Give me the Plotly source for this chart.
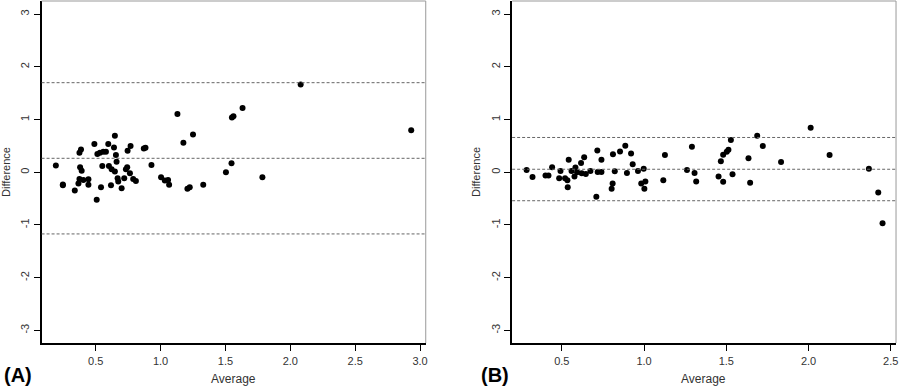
import plotly.graph_objects as go

# ---- Panel A data (Average, Difference) ----
avg_a = [0.193, 0.247, 0.247, 0.339, 0.367, 0.375, 0.387, 0.380, 0.392, 0.375, 0.405,
         0.444, 0.444, 0.490, 0.513, 0.533, 0.559, 0.579, 0.508, 0.541, 0.551, 0.597,
         0.602, 0.623, 0.618, 0.641, 0.648, 0.656, 0.661, 0.648, 0.669, 0.674, 0.700,
         0.720, 0.733, 0.743, 0.746, 0.769, 0.764, 0.789, 0.810, 0.871, 0.884, 0.930,
         1.004, 1.033, 1.058, 1.066, 1.130, 1.176, 1.207, 1.225, 1.250, 1.329, 1.504,
         1.547, 1.550, 1.562, 1.632, 1.785, 2.080, 2.932]
diff_a = [0.126, -0.245, -0.230, -0.346, -0.214, 0.371, 0.434, 0.094, 0.031, -0.126, -0.145,
          -0.132, -0.239, 0.535, 0.346, 0.371, 0.390, 0.390, -0.522, -0.283, 0.119, 0.535,
          0.119, 0.057, -0.245, 0.472, 0.692, 0.327, 0.201, 0.013, -0.113, -0.176, -0.302,
          -0.113, 0.057, 0.094, 0.409, 0.497, -0.019, -0.126, -0.164, 0.453, 0.465, 0.138,
          -0.094, -0.157, -0.145, -0.239, 1.107, 0.560, -0.314, -0.283, 0.717, -0.239, 0.0,
          0.170, 1.038, 1.063, 1.220, -0.094, 1.667, 0.799]
limits_a = [1.70, 0.265, -1.17]

# ---- Panel B data (Average, Difference) ----
avg_b = [0.286, 0.322, 0.401, 0.419, 0.441, 0.484, 0.492, 0.520, 0.534, 0.536, 0.542,
         0.559, 0.577, 0.583, 0.593, 0.617, 0.621, 0.636, 0.646, 0.674, 0.710, 0.716,
         0.718, 0.741, 0.741, 0.803, 0.809, 0.811, 0.822, 0.854, 0.886, 0.896, 0.921,
         0.931, 0.963, 0.983, 0.998, 1.002, 1.008, 1.117, 1.127, 1.261, 1.291, 1.307,
         1.317, 1.453, 1.467, 1.481, 1.481, 1.503, 1.513, 1.528, 1.538, 1.635, 1.645,
         1.688, 1.722, 1.833, 2.013, 2.128, 2.367, 2.424, 2.450]
diff_b = [0.044, -0.088, -0.063, -0.063, 0.094, -0.113, 0.025, -0.113, -0.151, -0.283, 0.239,
          0.025, -0.082, 0.088, 0.0, 0.176, -0.019, 0.283, -0.031, 0.025, -0.465, 0.415,
          0.006, 0.006, 0.239, -0.314, -0.214, 0.340, 0.019, 0.396, 0.503, -0.013, 0.358,
          0.151, 0.025, -0.214, 0.069, -0.314, -0.176, -0.151, 0.327, 0.044, 0.484, -0.013,
          -0.176, -0.082, 0.208, -0.182, 0.333, 0.390, 0.428, 0.610, -0.038, 0.264, -0.201,
          0.692, 0.497, 0.195, 0.843, 0.327, 0.069, -0.384, -0.969]
limits_b = [0.66, 0.057, -0.54]

x_ticks_a = [0.5, 1.0, 1.5, 2.0, 2.5, 3.0]
x_ticks_b = [0.5, 1.0, 1.5, 2.0, 2.5]
y_ticks = [-3, -2, -1, 0, 1, 2, 3]
y_tick_text = ["-3", "-2", "-1", "0", "1", "2", "3"]

FONT = "Liberation Sans, Arial, Helvetica, sans-serif"
TICKFONT = dict(family=FONT, size=11, color="#333333")

fig = go.Figure()
fig.add_trace(go.Scatter(x=avg_a, y=diff_a, mode="markers", xaxis="x", yaxis="y",
                         marker=dict(color="black", size=6), showlegend=False))
fig.add_trace(go.Scatter(x=avg_b, y=diff_b, mode="markers", xaxis="x2", yaxis="y2",
                         marker=dict(color="black", size=6), showlegend=False))


def xax(domain, rng, ticks):
    return dict(domain=domain, range=rng, tickvals=ticks,
                ticktext=[f"{t:.1f}" for t in ticks],
                showgrid=False, zeroline=False, showline=True, linecolor="black",
                linewidth=1.5, ticks="outside", ticklen=6, tickwidth=1.2,
                tickcolor="black", tickfont=TICKFONT, ticklabelstandoff=1)


def yax(domain, anchor):
    return dict(domain=domain, range=[-3.24, 3.25], tickvals=y_ticks, ticktext=y_tick_text,
                anchor=anchor, tickangle=-90,
                showgrid=False, zeroline=False, showline=True, linecolor="black",
                linewidth=2, ticks="outside", ticklen=6, tickwidth=1.2,
                tickcolor="black", tickfont=TICKFONT)


ydom = [0.1114, 0.9974]
fig.update_layout(
    width=900, height=386,
    margin=dict(l=0, r=0, t=0, b=0),
    paper_bgcolor="white", plot_bgcolor="white",
    xaxis=dict(xax([0.0463, 0.4741], [0.083, 3.044], x_ticks_a), anchor="y"),
    yaxis=yax(ydom, "x"),
    xaxis2=dict(xax([0.5703, 0.9978], [0.198, 2.532], x_ticks_b), anchor="y2"),
    yaxis2=yax(ydom, "x2"),
)

shapes = []
for xr, yr, lims in (("x", "y", limits_a), ("x2", "y2", limits_b)):
    # gray top/right box edges
    shapes.append(dict(type="line", xref=f"{xr} domain", yref=f"{yr} domain",
                       x0=0, x1=1, y0=1, y1=1, line=dict(color="#999999", width=1)))
    shapes.append(dict(type="line", xref=f"{xr} domain", yref=f"{yr} domain",
                       x0=1, x1=1, y0=0, y1=1, line=dict(color="#999999", width=1)))
    for v in lims:
        shapes.append(dict(type="line", xref=f"{xr} domain", yref=yr,
                           x0=0, x1=1, y0=v, y1=v,
                           line=dict(color="#666666", width=1, dash="3px,2px")))
fig.update_layout(shapes=shapes)

ann = []
for xc in (234, 705):
    ann.append(dict(text="Average", x=xc / 900, y=1 - 379 / 386, xref="paper",
                    yref="paper", showarrow=False, xanchor="center", yanchor="middle",
                    font=dict(family=FONT, size=12, color="#333333")))
for xc in (6, 477):
    ann.append(dict(text="Difference", x=xc / 900, y=1 - 172 / 386, xref="paper",
                    yref="paper", showarrow=False, textangle=-90, xanchor="center",
                    yanchor="middle", font=dict(family=FONT, size=11, color="#333333")))
for txt, xc in (("<b>(A)</b>", 18), ("<b>(B)</b>", 496)):
    ann.append(dict(text=txt, x=xc / 900, y=1 - 375 / 386, xref="paper", yref="paper",
                    showarrow=False, xanchor="center", yanchor="middle",
                    font=dict(family=FONT, size=20, color="black")))
fig.update_layout(annotations=ann)

fig.write_html("out.html", config={"displayModeBar": False},
               post_script="document.body.style.margin='0';document.body.style.overflow='hidden';")
